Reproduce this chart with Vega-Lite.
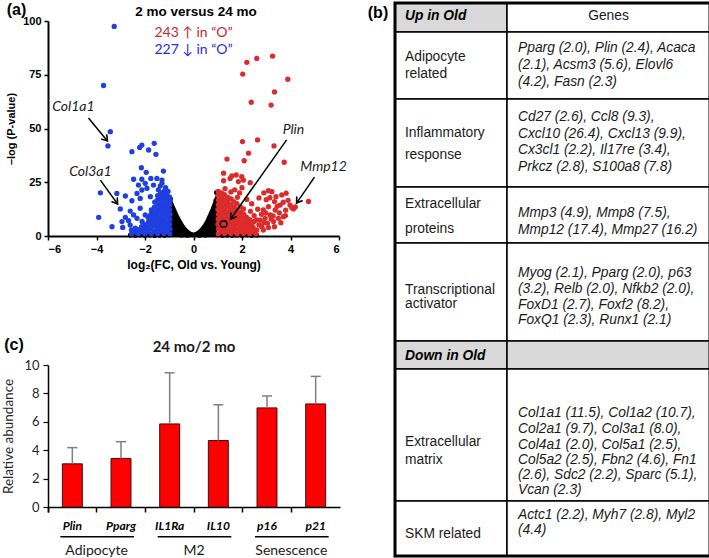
{
  "$schema": "https://vega.github.io/schema/vega-lite/v6.json",
  "padding": {"left": 1, "top": 1, "right": 0, "bottom": 0},
  "background": "white",
  "align": "none",
  "config": {
    "view": {"stroke": null},
    "axis": {"grid": false, "domainColor": "black", "tickColor": "black", "labelColor": "black", "titleColor": "black"}
  },
  "datasets": {
    "vshape": [
      {"x": -0.97, "y": 17.5}, {"x": -0.9, "y": 17}, {"x": -0.8, "y": 14.5}, {"x": -0.7, "y": 12}, {"x": -0.6, "y": 9.5},
      {"x": -0.5, "y": 7.5}, {"x": -0.4, "y": 5.5}, {"x": -0.3, "y": 4}, {"x": -0.2, "y": 2.8}, {"x": -0.1, "y": 2},
      {"x": 0, "y": 1.6}, {"x": 0.1, "y": 2}, {"x": 0.2, "y": 2.8}, {"x": 0.3, "y": 4}, {"x": 0.4, "y": 5.5},
      {"x": 0.5, "y": 7.5}, {"x": 0.6, "y": 10}, {"x": 0.7, "y": 12.5}, {"x": 0.8, "y": 15.5}, {"x": 0.9, "y": 18.5}, {"x": 0.97, "y": 20.5}
    ],
    "ns": [
      {"x": -2.6, "y": 0.5}, {"x": -2.4, "y": 0.3}, {"x": -2.2, "y": 0.6}, {"x": -2.0, "y": 0.4}, {"x": -1.8, "y": 0.5},
      {"x": -1.6, "y": 0.3}, {"x": -1.4, "y": 0.5}, {"x": -1.2, "y": 0.4}, {"x": -1.0, "y": 0.6}, {"x": -2.5, "y": 1.0},
      {"x": -2.3, "y": 0.8}, {"x": -1.9, "y": 0.9}, {"x": -1.5, "y": 0.8}, {"x": -1.1, "y": 0.9},
      {"x": 2.6, "y": 0.5}, {"x": 2.4, "y": 0.3}, {"x": 2.2, "y": 0.6}, {"x": 2.0, "y": 0.4}, {"x": 1.8, "y": 0.5},
      {"x": 1.6, "y": 0.3}, {"x": 1.4, "y": 0.5}, {"x": 1.2, "y": 0.4}, {"x": 1.0, "y": 0.6}, {"x": 2.5, "y": 1.0},
      {"x": 2.3, "y": 0.8}, {"x": 1.9, "y": 0.9}, {"x": 1.5, "y": 0.8}, {"x": 1.1, "y": 0.9},
      {"x": -0.95, "y": 17.2}, {"x": -0.92, "y": 14.5}, {"x": -0.9, "y": 11.5}, {"x": -0.93, "y": 8.5}, {"x": -0.91, "y": 5.5}, {"x": -0.92, "y": 2.5},
      {"x": 0.95, "y": 20.2}, {"x": 0.93, "y": 16.5}, {"x": 0.92, "y": 12.5}, {"x": 0.94, "y": 8.5}, {"x": 0.93, "y": 4.5},
      {"x": -0.5, "y": 0.5}, {"x": 0.5, "y": 0.5}, {"x": -0.25, "y": 0.4}, {"x": 0.25, "y": 0.4}
    ],
    "down": [
      {"x": -3.27, "y": 97.5}, {"x": -3.71, "y": 70.0}, {"x": -3.43, "y": 48.5}, {"x": -3.53, "y": 41.9}, {"x": -2.54, "y": 39.2},
      {"x": -2.22, "y": 41.2}, {"x": -2.13, "y": 42.3}, {"x": -1.85, "y": 40.0}, {"x": -1.62, "y": 43.1}, {"x": -1.55, "y": 38.0},
      {"x": -2.15, "y": 31.8}, {"x": -1.95, "y": 29.6}, {"x": -1.24, "y": 30.2}, {"x": -2.47, "y": 26.4}, {"x": -2.13, "y": 26.4},
      {"x": -1.76, "y": 26.8}, {"x": -1.51, "y": 26.8}, {"x": -1.30, "y": 26.0}, {"x": -2.27, "y": 23.7}, {"x": -1.99, "y": 24.5},
      {"x": -1.65, "y": 23.7}, {"x": -1.37, "y": 23.3}, {"x": -3.84, "y": 20.1}, {"x": -3.16, "y": 19.8}, {"x": -2.81, "y": 18.6},
      {"x": -2.54, "y": 16.4}, {"x": -2.33, "y": 19.8}, {"x": -2.13, "y": 21.4}, {"x": -1.92, "y": 22.2}, {"x": -1.78, "y": 18.3},
      {"x": -2.2, "y": 17.5}, {"x": -3.02, "y": 12.6}, {"x": -2.61, "y": 11.6}, {"x": -2.2, "y": 12.9}, {"x": -3.91, "y": 8.7},
      {"x": -2.81, "y": 8.7}, {"x": -2.95, "y": 6.7}, {"x": -2.68, "y": 7.1}, {"x": -3.36, "y": 4.3}, {"x": -2.92, "y": 4.0},
      {"x": -2.61, "y": 5.1}, {"x": -2.40, "y": 3.6}, {"x": -2.33, "y": 8.2}, {"x": -1.99, "y": 9.8}, {"x": -2.47, "y": 9.8},
      {"x": -0.98, "y": 1.0}, {"x": -0.97, "y": 3.3}, {"x": -0.99, "y": 5.5}, {"x": -0.98, "y": 7.8}, {"x": -0.97, "y": 10.1},
      {"x": -0.99, "y": 12.2}, {"x": -0.98, "y": 14.5}, {"x": -0.97, "y": 16.6}, {"x": -0.99, "y": 18.2},
      {"x": -1.1, "y": 2.1}, {"x": -1.11, "y": 4.4}, {"x": -1.09, "y": 6.6}, {"x": -1.1, "y": 8.9}, {"x": -1.12, "y": 11.0},
      {"x": -1.1, "y": 13.3}, {"x": -1.09, "y": 15.5}, {"x": -1.11, "y": 17.8}, {"x": -1.1, "y": 19.6},
      {"x": -1.22, "y": 1.2}, {"x": -1.23, "y": 3.5}, {"x": -1.21, "y": 5.7}, {"x": -1.22, "y": 7.9}, {"x": -1.24, "y": 10.2},
      {"x": -1.22, "y": 12.4}, {"x": -1.21, "y": 14.6}, {"x": -1.23, "y": 16.9}, {"x": -1.22, "y": 19.0}, {"x": -1.2, "y": 21.0},
      {"x": -1.35, "y": 2.3}, {"x": -1.36, "y": 4.5}, {"x": -1.34, "y": 6.8}, {"x": -1.35, "y": 9.0}, {"x": -1.37, "y": 11.3},
      {"x": -1.35, "y": 13.5}, {"x": -1.34, "y": 15.6}, {"x": -1.36, "y": 17.9}, {"x": -1.35, "y": 20.2},
      {"x": -1.48, "y": 1.1}, {"x": -1.49, "y": 3.4}, {"x": -1.47, "y": 5.6}, {"x": -1.48, "y": 7.8}, {"x": -1.5, "y": 10.0},
      {"x": -1.48, "y": 12.3}, {"x": -1.47, "y": 14.4}, {"x": -1.49, "y": 16.7}, {"x": -1.48, "y": 18.8},
      {"x": -1.61, "y": 2.2}, {"x": -1.62, "y": 4.6}, {"x": -1.6, "y": 6.7}, {"x": -1.61, "y": 9.1}, {"x": -1.63, "y": 11.2},
      {"x": -1.61, "y": 13.4}, {"x": -1.6, "y": 15.8},
      {"x": -1.74, "y": 1.0}, {"x": -1.75, "y": 3.3}, {"x": -1.73, "y": 5.5}, {"x": -1.74, "y": 7.7}, {"x": -1.76, "y": 10.0}, {"x": -1.74, "y": 12.1},
      {"x": -1.87, "y": 2.0}, {"x": -1.88, "y": 4.2}, {"x": -1.86, "y": 6.5}, {"x": -1.87, "y": 8.6},
      {"x": -2.0, "y": 1.0}, {"x": -2.01, "y": 3.2}, {"x": -1.99, "y": 5.3},
      {"x": -2.13, "y": 2.2}, {"x": -2.14, "y": 4.3}, {"x": -2.12, "y": 6.8},
      {"x": -2.27, "y": 1.1}, {"x": -2.28, "y": 3.0}, {"x": -2.42, "y": 1.9}, {"x": -2.55, "y": 1.0}, {"x": -2.56, "y": 2.8},
      {"x": -1.15, "y": 22.5}, {"x": -1.3, "y": 24.5}, {"x": -1.45, "y": 21.5}, {"x": -1.05, "y": 20.8}
    ],
    "up": [
      {"x": 2.20, "y": 80.8}, {"x": 2.61, "y": 82.6}, {"x": 3.26, "y": 83.7}, {"x": 2.03, "y": 75.3}, {"x": 3.89, "y": 72.9},
      {"x": 3.34, "y": 67.0}, {"x": 2.38, "y": 62.2}, {"x": 3.20, "y": 60.9},
      {"x": 2.02, "y": 43.9}, {"x": 2.64, "y": 44.7}, {"x": 3.32, "y": 41.9}, {"x": 2.27, "y": 38.5}, {"x": 1.38, "y": 35.8},
      {"x": 2.09, "y": 35.0}, {"x": 3.74, "y": 34.3},
      {"x": 1.24, "y": 29.2}, {"x": 1.58, "y": 27.9}, {"x": 1.76, "y": 28.4}, {"x": 1.99, "y": 27.6}, {"x": 1.24, "y": 25.7},
      {"x": 1.51, "y": 26.8}, {"x": 1.85, "y": 25.3}, {"x": 2.34, "y": 24.8}, {"x": 2.06, "y": 26.0},
      {"x": 3.09, "y": 21.1}, {"x": 3.23, "y": 20.6}, {"x": 3.64, "y": 19.1}, {"x": 3.82, "y": 19.9}, {"x": 4.12, "y": 12.6},
      {"x": 3.98, "y": 14.4}, {"x": 3.57, "y": 14.4}, {"x": 3.34, "y": 16.0}, {"x": 3.09, "y": 13.6}, {"x": 2.88, "y": 12.1},
      {"x": 3.37, "y": 12.1}, {"x": 3.54, "y": 10.8}, {"x": 3.71, "y": 9.0}, {"x": 3.16, "y": 9.8}, {"x": 2.95, "y": 8.2},
      {"x": 2.75, "y": 7.4}, {"x": 3.05, "y": 5.9}, {"x": 3.30, "y": 6.7}, {"x": 2.82, "y": 4.3}, {"x": 3.09, "y": 3.9},
      {"x": 3.34, "y": 4.3}, {"x": 2.61, "y": 2.8}, {"x": 2.88, "y": 2.8}, {"x": 2.41, "y": 5.9}, {"x": 4.74, "y": 16.1},
      {"x": 4.05, "y": 13.3}, {"x": 3.79, "y": 9.5},
      {"x": 2.35, "y": 11.5}, {"x": 2.5, "y": 9.5}, {"x": 2.6, "y": 7.5}, {"x": 1.9, "y": 20}, {"x": 2.2, "y": 17},
      {"x": 2.4, "y": 15}, {"x": 1.7, "y": 21.5}, {"x": 2.0, "y": 22.5}, {"x": 2.65, "y": 12.5}, {"x": 2.7, "y": 5.2},
      {"x": 2.5, "y": 6.8}, {"x": 2.9, "y": 6.2}, {"x": 3.5, "y": 8.2}, {"x": 3.6, "y": 6.2}, {"x": 3.2, "y": 7.9},
      {"x": 3.45, "y": 13.8}, {"x": 2.98, "y": 10.7}, {"x": 3.28, "y": 9.3}, {"x": 2.8, "y": 10.1}, {"x": 3.0, "y": 16.9},
      {"x": 3.15, "y": 17.8}, {"x": 3.4, "y": 18.3}, {"x": 3.8, "y": 12.0}, {"x": 3.9, "y": 16.6}, {"x": 4.2, "y": 13.5},
      {"x": 3.7, "y": 15.7}, {"x": 2.7, "y": 17.7}, {"x": 2.9, "y": 20.1},
      {"x": 1.02, "y": 1.0}, {"x": 1.03, "y": 3.3}, {"x": 1.01, "y": 5.5}, {"x": 1.02, "y": 7.8}, {"x": 1.03, "y": 10.0},
      {"x": 1.01, "y": 12.3}, {"x": 1.02, "y": 14.5}, {"x": 1.03, "y": 16.7}, {"x": 1.01, "y": 19.0}, {"x": 1.02, "y": 20.8},
      {"x": 1.15, "y": 2.1}, {"x": 1.16, "y": 4.4}, {"x": 1.14, "y": 6.6}, {"x": 1.15, "y": 8.9}, {"x": 1.17, "y": 11.1},
      {"x": 1.15, "y": 13.4}, {"x": 1.14, "y": 15.6}, {"x": 1.16, "y": 17.8}, {"x": 1.15, "y": 20.1},
      {"x": 1.28, "y": 1.2}, {"x": 1.29, "y": 3.4}, {"x": 1.27, "y": 5.7}, {"x": 1.28, "y": 7.9}, {"x": 1.3, "y": 10.2},
      {"x": 1.28, "y": 12.4}, {"x": 1.27, "y": 14.7}, {"x": 1.29, "y": 16.8}, {"x": 1.28, "y": 19.2}, {"x": 1.3, "y": 22.0},
      {"x": 1.41, "y": 2.2}, {"x": 1.42, "y": 4.5}, {"x": 1.4, "y": 6.7}, {"x": 1.41, "y": 9.0}, {"x": 1.43, "y": 11.2},
      {"x": 1.41, "y": 13.5}, {"x": 1.4, "y": 15.7}, {"x": 1.42, "y": 18.0},
      {"x": 1.54, "y": 1.1}, {"x": 1.55, "y": 3.3}, {"x": 1.53, "y": 5.6}, {"x": 1.54, "y": 7.8}, {"x": 1.56, "y": 10.1},
      {"x": 1.54, "y": 12.3}, {"x": 1.53, "y": 14.6}, {"x": 1.55, "y": 17.2}, {"x": 1.54, "y": 20.5},
      {"x": 1.67, "y": 2.3}, {"x": 1.68, "y": 4.5}, {"x": 1.66, "y": 6.8}, {"x": 1.67, "y": 9.0}, {"x": 1.69, "y": 11.3},
      {"x": 1.67, "y": 13.5}, {"x": 1.66, "y": 16.0},
      {"x": 1.8, "y": 1.0}, {"x": 1.81, "y": 3.2}, {"x": 1.79, "y": 5.5}, {"x": 1.8, "y": 7.7}, {"x": 1.82, "y": 10.0},
      {"x": 1.8, "y": 12.2}, {"x": 1.79, "y": 15.0}, {"x": 1.81, "y": 18.0},
      {"x": 1.93, "y": 2.1}, {"x": 1.94, "y": 4.4}, {"x": 1.92, "y": 6.6}, {"x": 1.93, "y": 8.8}, {"x": 1.95, "y": 11.0}, {"x": 1.93, "y": 13.6},
      {"x": 2.06, "y": 1.2}, {"x": 2.07, "y": 3.4}, {"x": 2.05, "y": 5.6}, {"x": 2.06, "y": 7.9}, {"x": 2.08, "y": 10.1}, {"x": 2.06, "y": 12.6},
      {"x": 2.19, "y": 2.0}, {"x": 2.2, "y": 4.3}, {"x": 2.18, "y": 6.5}, {"x": 2.19, "y": 8.7},
      {"x": 2.32, "y": 1.1}, {"x": 2.33, "y": 3.2}, {"x": 2.31, "y": 5.4}, {"x": 2.32, "y": 7.6},
      {"x": 2.45, "y": 2.0}, {"x": 2.46, "y": 4.0}, {"x": 2.58, "y": 1.0}
    ],
    "arrows": [
      {"gene": "Col1a1", "x": -4.33, "y": 54.9, "x2": -3.55, "y2": 44.2},
      {"gene": "Col3a1", "x": -3.84, "y": 26.0, "x2": -3.13, "y2": 14.9},
      {"gene": "Plin", "x": 3.84, "y": 44.7, "x2": 1.53, "y2": 7.9},
      {"gene": "Mmp12", "x": 4.99, "y": 27.4, "x2": 4.25, "y2": 15.3}
    ],
    "genelabels": [
      {"label": "Col1a1", "x": -4.95, "y": 60.0},
      {"label": "Col3a1", "x": -4.25, "y": 29.8},
      {"label": "Plin", "x": 4.12, "y": 49.3},
      {"label": "Mmp12", "x": 5.36, "y": 32.1}
    ],
    "bars": [
      {"gene": "Plin", "val": 3.04, "hi": 4.18},
      {"gene": "Pparg", "val": 3.42, "hi": 4.6},
      {"gene": "IL1Ra", "val": 5.85, "hi": 9.45},
      {"gene": "IL10", "val": 4.68, "hi": 7.2},
      {"gene": "p16", "val": 6.98, "hi": 7.82},
      {"gene": "p21", "val": 7.26, "hi": 9.2}
    ],
    "groups": [
      {"group": "Adipocyte", "from": "Plin", "to": "Pparg"},
      {"group": "M2", "from": "IL1Ra", "to": "IL10"},
      {"group": "Senescence", "from": "p16", "to": "p21"}
    ],
    "cells": [
      {"kind": "heading", "x0": 0, "x1": 112, "y0": 0, "y1": 29},
      {"kind": "body", "x0": 112, "x1": 315, "y0": 0, "y1": 29},
      {"kind": "body", "x0": 0, "x1": 112, "y0": 29, "y1": 96},
      {"kind": "body", "x0": 112, "x1": 315, "y0": 29, "y1": 96},
      {"kind": "body", "x0": 0, "x1": 112, "y0": 96, "y1": 184},
      {"kind": "body", "x0": 112, "x1": 315, "y0": 96, "y1": 184},
      {"kind": "body", "x0": 0, "x1": 112, "y0": 184, "y1": 240},
      {"kind": "body", "x0": 112, "x1": 315, "y0": 184, "y1": 240},
      {"kind": "body", "x0": 0, "x1": 112, "y0": 240, "y1": 338},
      {"kind": "body", "x0": 112, "x1": 315, "y0": 240, "y1": 338},
      {"kind": "heading", "x0": 0, "x1": 112, "y0": 338, "y1": 366},
      {"kind": "heading", "x0": 112, "x1": 315, "y0": 338, "y1": 366},
      {"kind": "body", "x0": 0, "x1": 112, "y0": 366, "y1": 498},
      {"kind": "body", "x0": 112, "x1": 315, "y0": 366, "y1": 498},
      {"kind": "body", "x0": 0, "x1": 112, "y0": 498, "y1": 553},
      {"kind": "body", "x0": 112, "x1": 315, "y0": 498, "y1": 553}
    ],
    "tabletext": [
      {"kind": "heading", "text": "Up in Old", "line": 12.5},
      {"kind": "colhead", "text": "Genes", "line": 12.5},
      {"kind": "category", "text": "Adipocyte", "line": 54},
      {"kind": "category", "text": "related", "line": 71},
      {"kind": "genes", "text": "Pparg (2.0), Plin (2.4), Acaca", "line": 45},
      {"kind": "genes", "text": "(2.1), Acsm3 (5.6), Elovl6", "line": 61.5},
      {"kind": "genes", "text": "(4.2), Fasn (2.3)", "line": 78.5},
      {"kind": "category", "text": "Inflammatory", "line": 130},
      {"kind": "category", "text": "response", "line": 152},
      {"kind": "genes", "text": "Cd27 (2.6), Ccl8 (9.3),", "line": 114},
      {"kind": "genes", "text": "Cxcl10 (26.4), Cxcl13 (9.9),", "line": 130.5},
      {"kind": "genes", "text": "Cx3cl1 (2.2), Il17re (3.4),", "line": 147},
      {"kind": "genes", "text": "Prkcz (2.8), S100a8 (7.8)", "line": 163.5},
      {"kind": "category", "text": "Extracellular", "line": 201},
      {"kind": "category", "text": "proteins", "line": 226},
      {"kind": "genes", "text": "Mmp3 (4.9), Mmp8 (7.5),", "line": 210},
      {"kind": "genes", "text": "Mmp12 (17.4), Mmp27 (16.2)", "line": 227},
      {"kind": "category", "text": "Transcriptional", "line": 287},
      {"kind": "category", "text": "activator", "line": 301},
      {"kind": "genes", "text": "Myog (2.1), Pparg (2.0), p63", "line": 270},
      {"kind": "genes", "text": "(3.2), Relb (2.0), Nfkb2 (2.0),", "line": 286},
      {"kind": "genes", "text": "FoxD1 (2.7), Foxf2 (8.2),", "line": 302},
      {"kind": "genes", "text": "FoxQ1 (2.3), Runx1 (2.1)", "line": 317},
      {"kind": "heading", "text": "Down in Old", "line": 353},
      {"kind": "category", "text": "Extracellular", "line": 439},
      {"kind": "category", "text": "matrix", "line": 457},
      {"kind": "genes", "text": "Col1a1 (11.5), Col1a2 (10.7),", "line": 410},
      {"kind": "genes", "text": "Col2a1 (9.7), Col3a1 (8.0),", "line": 426},
      {"kind": "genes", "text": "Col4a1 (2.0), Col5a1 (2.5),", "line": 442},
      {"kind": "genes", "text": "Col5a2 (2.5), Fbn2 (4.6), Fn1", "line": 457},
      {"kind": "genes", "text": "(2.6), Sdc2 (2.2), Sparc (5.1),", "line": 472},
      {"kind": "genes", "text": "Vcan (2.3)", "line": 487},
      {"kind": "category", "text": "SKM related", "line": 531},
      {"kind": "genes", "text": "Actc1 (2.2), Myh7 (2.8), Myl2", "line": 512},
      {"kind": "genes", "text": "(4.4)", "line": 527}
    ]
  },
  "hconcat": [
    {
      "spacing": 67,
      "vconcat": [
        {
          "width": 291,
          "height": 215,
          "layer": [
            {
              "data": {"name": "vshape"},
              "mark": {"type": "area", "color": "black", "interpolate": "linear"},
              "encoding": {
                "x": {"field": "x", "type": "quantitative",
                  "scale": {"domain": [-6, 6], "nice": false, "zero": false},
                  "axis": {"values": [-6, -4, -2, 0, 2, 4, 6], "title": "log₂(FC, Old vs. Young)",
                    "labelFont": "Liberation Sans", "labelFontWeight": "bold", "labelFontSize": 11,
                    "titleFont": "Liberation Sans", "titleFontWeight": "bold", "titleFontSize": 12,
                    "domainWidth": 2, "tickWidth": 1.5, "tickSize": 4, "labelPadding": 3, "titlePadding": 5}},
                "y": {"field": "y", "type": "quantitative",
                  "scale": {"domain": [0, 100], "nice": false},
                  "axis": {"values": [0, 25, 50, 75, 100], "title": "–log  (P-value)",
                    "labelFont": "Liberation Sans", "labelFontWeight": "bold", "labelFontSize": 11,
                    "titleFont": "Liberation Sans", "titleFontWeight": "bold", "titleFontSize": 11,
                    "domainWidth": 2, "tickWidth": 1.5, "tickSize": 4, "labelPadding": 3, "titlePadding": 6}},
                "y2": {"datum": 0}
              }
            },
            {
              "data": {"name": "ns"},
              "mark": {"type": "circle", "color": "black", "size": 26, "opacity": 1},
              "encoding": {"x": {"field": "x", "type": "quantitative"}, "y": {"field": "y", "type": "quantitative"}}
            },
            {
              "data": {"name": "down"},
              "mark": {"type": "circle", "color": "#1f3fe0", "size": 28, "opacity": 1},
              "encoding": {"x": {"field": "x", "type": "quantitative"}, "y": {"field": "y", "type": "quantitative"}}
            },
            {
              "data": {"name": "up"},
              "mark": {"type": "circle", "color": "#dc2b2b", "size": 28, "opacity": 1},
              "encoding": {"x": {"field": "x", "type": "quantitative"}, "y": {"field": "y", "type": "quantitative"}}
            },
            {
              "data": {"values": [{"gene": "Plin", "x": 1.24, "y": 5.6}]},
              "mark": {"type": "point", "filled": false, "stroke": "black", "strokeWidth": 1.6, "size": 45, "opacity": 1},
              "encoding": {"x": {"field": "x", "type": "quantitative"}, "y": {"field": "y", "type": "quantitative"}}
            },
            {
              "data": {"name": "arrows"},
              "mark": {"type": "rule", "color": "black", "strokeWidth": 1.5},
              "encoding": {"x": {"field": "x", "type": "quantitative"}, "y": {"field": "y", "type": "quantitative"},
                "x2": {"field": "x2"}, "y2": {"field": "y2"}}
            },
            {
              "data": {"name": "arrows"},
              "transform": [{"calculate": "atan2((datum.x2 - datum.x) * 24.25, (datum.y2 - datum.y) * 2.15) * 180 / PI", "as": "angle"}],
              "mark": {"type": "point", "shape": "M -0.55 0.85 L 0 0 L 0.55 0.85", "filled": false, "stroke": "black", "strokeWidth": 1.6, "size": 170, "opacity": 1},
              "encoding": {"x": {"field": "x2", "type": "quantitative"}, "y": {"field": "y2", "type": "quantitative"},
                "angle": {"field": "angle", "type": "quantitative", "scale": null}}
            },
            {
              "data": {"name": "genelabels"},
              "mark": {"type": "text", "font": "Lato", "fontStyle": "italic", "fontSize": 14, "color": "#1a1a1a"},
              "encoding": {"x": {"field": "x", "type": "quantitative"}, "y": {"field": "y", "type": "quantitative"}, "text": {"field": "label"}}
            },
            {
              "data": {"values": [{"t": "243 ↑ in “O”", "x": 0, "y": 94.4, "dir": "up"}, {"t": "227 ↓ in “O”", "x": 0, "y": 86.5, "dir": "down"}]},
              "mark": {"type": "text", "font": "Lato", "fontSize": 14},
              "encoding": {"x": {"field": "x", "type": "quantitative"}, "y": {"field": "y", "type": "quantitative"}, "text": {"field": "t"},
                "color": {"field": "dir", "type": "nominal", "scale": {"domain": ["up", "down"], "range": ["#c8282d", "#2a2ade"]}, "legend": null}}
            },
            {
              "data": {"values": [{"t": "2 mo versus 24 mo", "x": 0.1, "y": 104.3}]},
              "mark": {"type": "text", "font": "Liberation Sans", "fontWeight": "bold", "fontSize": 13.5, "color": "black"},
              "encoding": {"x": {"field": "x", "type": "quantitative"}, "y": {"field": "y", "type": "quantitative"}, "text": {"field": "t"}}
            },
            {
              "data": {"values": [{"t": "(a)", "x": -7.3, "y": 105}]},
              "mark": {"type": "text", "font": "Liberation Sans", "fontWeight": "bold", "fontSize": 16, "color": "black"},
              "encoding": {"x": {"field": "x", "type": "quantitative"}, "y": {"field": "y", "type": "quantitative"}, "text": {"field": "t"}}
            }
          ]
        },
        {
          "width": 292,
          "height": 142,
          "layer": [
            {
              "data": {"name": "bars"},
              "mark": {"type": "bar", "color": "#ff0000", "stroke": "#3b1010", "strokeWidth": 1, "width": {"band": 0.41}},
              "encoding": {
                "x": {"field": "gene", "type": "nominal",
                  "scale": {"domain": ["Plin", "Pparg", "IL1Ra", "IL10", "p16", "p21"], "paddingInner": 0, "paddingOuter": 0},
                  "axis": {"title": null, "labelAngle": 0, "labelFont": "Lato", "labelFontStyle": "italic", "labelFontWeight": "bold", "labelFontSize": 12,
                    "bandPosition": 0, "tickExtra": true, "tickSize": 5, "tickWidth": 1.5, "domainWidth": 1.5, "labelPadding": 8}},
                "y": {"field": "val", "type": "quantitative",
                  "scale": {"domain": [0, 10], "nice": false},
                  "axis": {"tickCount": 6, "labelOverlap": false, "labelSeparation": 0, "title": "Relative abundance", "titleFont": "Lato", "titleFontWeight": "normal", "titleFontSize": 13.5,
                    "titleColor": "#262626", "labelFont": "Lato", "labelFontSize": 13, "labelColor": "#262626",
                    "tickSize": 5, "tickWidth": 1.2, "domainWidth": 1.5, "labelPadding": 4, "titlePadding": 8}}
              }
            },
            {
              "data": {"name": "bars"},
              "mark": {"type": "rule", "color": "#7f7f7f", "strokeWidth": 1.5},
              "encoding": {"x": {"field": "gene", "type": "nominal"}, "y": {"field": "val", "type": "quantitative"}, "y2": {"field": "hi"}}
            },
            {
              "data": {"name": "bars"},
              "mark": {"type": "tick", "color": "#7f7f7f", "thickness": 1.5, "size": 10, "opacity": 1},
              "encoding": {"x": {"field": "gene", "type": "nominal"}, "y": {"field": "hi", "type": "quantitative"}}
            },
            {
              "data": {"name": "groups"},
              "mark": {"type": "rule", "color": "black", "strokeWidth": 1.5, "xOffset": -12, "x2Offset": 13},
              "encoding": {"x": {"field": "from", "type": "nominal"}, "x2": {"field": "to"}, "y": {"datum": -2.1}}
            },
            {
              "data": {"name": "groups"},
              "mark": {"type": "text", "font": "Lato", "fontSize": 14, "color": "#1a1a1a"},
              "encoding": {"x": {"field": "to", "type": "nominal", "bandPosition": 0}, "y": {"datum": -3.1}, "text": {"field": "group"}}
            },
            {
              "data": {"values": [{"t": "24 mo/2 mo"}]},
              "mark": {"type": "text", "font": "Lato", "fontWeight": "bold", "fontSize": 15, "color": "#1a1a1a"},
              "encoding": {"x": {"datum": "IL10", "bandPosition": 0}, "y": {"datum": 11.3}, "text": {"field": "t"}}
            },
            {
              "data": {"values": [{"t": "(c)"}]},
              "mark": {"type": "text", "font": "Liberation Sans", "fontWeight": "bold", "fontSize": 16, "color": "black"},
              "encoding": {"x": {"datum": "Plin", "bandPosition": -0.7}, "y": {"datum": 11.4}, "text": {"field": "t"}}
            }
          ]
        }
      ]
    },
    {
      "width": 315,
      "height": 535,
      "layer": [
        {
          "data": {"name": "cells"},
          "mark": {"type": "rect", "stroke": "black", "strokeWidth": 1.5},
          "encoding": {
            "x": {"field": "x0", "type": "quantitative", "scale": {"domain": [0, 315], "nice": false, "zero": false}, "axis": null},
            "x2": {"field": "x1"},
            "y": {"field": "y0", "type": "quantitative", "scale": {"domain": [0, 553], "range": [-18, 535], "nice": false, "zero": false}, "axis": null},
            "y2": {"field": "y1"},
            "fill": {"field": "kind", "type": "nominal", "scale": {"domain": ["heading", "body"], "range": ["#d9d9d9", "#ffffff"]}, "legend": null}
          }
        },
        {
          "data": {"values": [{"x0": 0, "x1": 315, "y0": 0, "y1": 553}]},
          "mark": {"type": "rect", "fill": null, "fillOpacity": 0, "stroke": "black", "strokeWidth": 3},
          "encoding": {"x": {"field": "x0", "type": "quantitative"}, "x2": {"field": "x1"}, "y": {"field": "y0", "type": "quantitative"}, "y2": {"field": "y1"}}
        },
        {
          "data": {"name": "tabletext"},
          "transform": [{"filter": "datum.kind === 'heading'"}],
          "mark": {"type": "text", "font": "Liberation Sans", "fontStyle": "italic", "fontWeight": "bold", "fontSize": 13.8, "align": "left", "baseline": "middle", "color": "black"},
          "encoding": {"x": {"datum": 10}, "y": {"field": "line", "type": "quantitative"}, "text": {"field": "text"}}
        },
        {
          "data": {"name": "tabletext"},
          "transform": [{"filter": "datum.kind === 'colhead'"}],
          "mark": {"type": "text", "font": "Liberation Sans", "fontSize": 13.8, "align": "center", "baseline": "middle", "color": "#1a1a1a"},
          "encoding": {"x": {"datum": 213.5}, "y": {"field": "line", "type": "quantitative"}, "text": {"field": "text"}}
        },
        {
          "data": {"name": "tabletext"},
          "transform": [{"filter": "datum.kind === 'category'"}],
          "mark": {"type": "text", "font": "Liberation Sans", "fontSize": 13.8, "align": "left", "baseline": "middle", "color": "#1a1a1a"},
          "encoding": {"x": {"datum": 10}, "y": {"field": "line", "type": "quantitative"}, "text": {"field": "text"}}
        },
        {
          "data": {"name": "tabletext"},
          "transform": [{"filter": "datum.kind === 'genes'"}],
          "mark": {"type": "text", "font": "Liberation Sans", "fontStyle": "italic", "fontSize": 13.8, "align": "left", "baseline": "middle", "color": "#1a1a1a"},
          "encoding": {"x": {"datum": 123}, "y": {"field": "line", "type": "quantitative"}, "text": {"field": "text"}}
        },
        {
          "data": {"values": [{"t": "(b)", "x": -17, "y": 9.5}]},
          "mark": {"type": "text", "font": "Liberation Sans", "fontWeight": "bold", "fontSize": 16, "color": "black"},
          "encoding": {"x": {"field": "x", "type": "quantitative"}, "y": {"field": "y", "type": "quantitative"}, "text": {"field": "t"}}
        }
      ]
    }
  ],
  "spacing": 20
}
